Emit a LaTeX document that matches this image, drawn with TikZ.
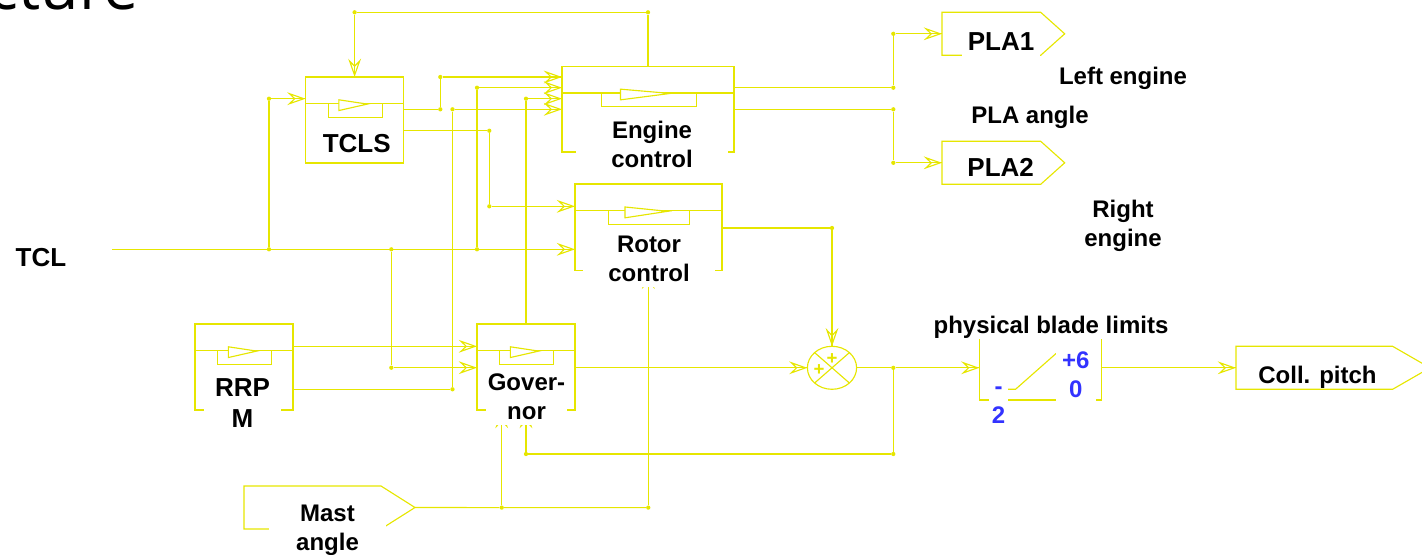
\documentclass[tikz,border=0pt]{standalone}
\usepackage{fontspec}
\setmainfont{Liberation Sans}
\newfontfamily\headfont{Open Sans}
\usepackage{tikz}
\usetikzlibrary{shapes.geometric, arrows.meta, fit}

\definecolor{wireyellow}{HTML}{E6E600}
\definecolor{limitblue}{HTML}{3333FF}

% control block: name, left, top, right, bottom
\newcommand{\ctrlblock}[5]{
    \node[ctrlbox, fit={(#2,#3) (#4,#5)}] (#1) {};
    \pgfmathsetmacro\bw{(#4-#2)*0.75}
    \pgfmathsetmacro\bh{(#5-#3)*0.75}
    \draw[wire, shift={(#2,#3)}, x=\bw pt, y=-\bh pt]
        (0,.31) -- (1,.31)
        (.23,.31) -- (.23,.47) -- (.78,.47) -- (.78,.31);
    \draw[wire, fill=white, shift={(#2,#3)}, x=\bw pt, y=-\bh pt]
        (.34,.265) -- (.63,.315) -- (.34,.39) -- cycle;
}
% pointed tag: name, left, top, shoulder, tip, bottom
\newcommand{\tagshape}[6]{
    \node[inner sep=0pt, outer sep=0pt, fit={(#2,#3) (#5,#6)}] (#1) {};
    \draw[wire] (#2,#3) -- (#4,#3) -- (#1.east) -- (#4,#6) -- (#2,#6) -- cycle;
}

\begin{document}
\begin{tikzpicture}[
        x=0.75pt, y=-0.75pt,
        wire/.style={draw=wireyellow, line width=0.85pt},
        feed/.style={wire, postaction={draw, -{Stealth[open, length=13.7pt, width=9.6pt, inset=5pt]}}},
        ctrlbox/.style={rectangle, wire, inner sep=0pt, outer sep=0pt},
        junction/.style={circle, fill=wireyellow, inner sep=0pt, minimum size=3.2pt},
        lab/.style={fill=white, inner sep=0pt, align=center, font=\bfseries\fontsize{18}{21.75}\selectfont},
        labbig/.style={lab, font=\bfseries\fontsize{19.5}{23}\selectfont},
        limit/.style={lab, text=limitblue}
    ]
    \useasboundingbox (0,0) rectangle (1422,554);

    \node[anchor=base east, inner sep=0pt, font=\headfont\fontsize{47}{47}\selectfont] (headtail) at (139,9) {ecture};

    % blocks
    \ctrlblock{tcls}{305.5}{77}{403.7}{163}
    \ctrlblock{engine}{562}{66.5}{734}{152}
    \ctrlblock{rotor}{575}{184}{722}{270.7}
    \ctrlblock{rrpm}{195}{324}{293}{410}
    \ctrlblock{governor}{477}{324}{575}{410}

    \tagshape{pla1}{942}{12.3}{1040.7}{1064.7}{55.3}
    \tagshape{pla2}{942}{141.3}{1040.7}{1064.7}{184.3}
    \tagshape{mast}{244}{486}{381}{415}{529}
    \tagshape{coll}{1236}{346.3}{1392.6}{1430}{389.3}

    \node[ellipse, wire, inner sep=0pt, outer sep=0pt, minimum width=36.9pt, minimum height=32.25pt] (sum) at (832,367.8) {};
    \draw[wire] (sum.north west) -- (sum.south east) (sum.north east) -- (sum.south west);
    \node[text=wireyellow, inner sep=0pt, font=\bfseries\fontsize{14}{14}\selectfont] (sumplusa) at (832,359) {+};
    \node[text=wireyellow, inner sep=0pt, font=\bfseries\fontsize{14}{14}\selectfont] (sumplusb) at (819,370) {+};

    \node[ctrlbox, fit={(979.4,335) (1101.5,400)}] (limiter) {};
    \draw[wire] (1000,389.3) -- (1015.5,389.3) -- (1060,350);

    % junctions
    \coordinate (tclin) at (112,249.3);
    \node[junction] (jtcla) at (269,249.3) {};
    \node[junction] (jtclb) at (391.3,249.3) {};
    \node[junction] (jtclc) at (477,249.3) {};
    \node[junction] (jtcls) at (269,98.7) {};
    \node[junction] (jgovin) at (391.3,367.7) {};
    \node[junction] (jengb) at (477,87.7) {};
    \node[junction] (jouta) at (440.3,109.3) {};
    \node[junction] (jenga) at (440.3,77) {};
    \node[junction] (jengd) at (452.5,109.3) {};
    \node[junction] (jrrpm) at (452.5,389.3) {};
    \node[junction] (joutb) at (489.3,130.7) {};
    \node[junction] (jrota) at (489.3,206.3) {};
    \node[junction] (jengc) at (526,98.7) {};
    \node[junction] (jfbr) at (648,12.3) {};
    \node[junction] (jfbl) at (354.6,12.3) {};
    \node[junction] (jrot) at (832,228) {};
    \node[junction] (jsum) at (893.3,367.8) {};
    \node[junction] (jback) at (893.3,454) {};
    \node[junction] (jgovb) at (526,454) {};
    \node[junction] (jmasta) at (501.7,507.6) {};
    \node[junction] (jmastb) at (648.3,507.6) {};
    \node[junction] (jplaa) at (893.3,87.7) {};
    \node[junction] (jplab) at (893.3,33.8) {};
    \node[junction] (jplac) at (893.3,109.3) {};
    \node[junction] (jplad) at (893.3,162.8) {};

    % connectors
    \draw[feed] (tclin) -- (tclin -| rotor.west);
    \draw[wire] (jtcla) -- (jtcls);
    \draw[feed] (jtcls) -- (jtcls -| tcls.west);
    \draw[wire] (jtclb) -- (jgovin);
    \draw[feed] (jgovin) -- (jgovin -| governor.west);
    \draw[wire] (jtclc) -- (jengb);
    \draw[feed] (jengb) -- (jengb -| engine.west);
    \draw[wire] (jouta -| tcls.east) -- (jouta) -- (jenga);
    \draw[feed] (jenga) -- (jenga -| engine.west);
    \draw[wire] (jrrpm -| rrpm.east) -- (jrrpm) -- (jengd);
    \draw[feed] (jengd) -- (jengd -| engine.west);
    \draw[wire] (joutb -| tcls.east) -- (joutb) -- (jrota);
    \draw[feed] (jrota) -- (jrota -| rotor.west);
    \draw[wire] (governor.north -| jengc) -- (jengc);
    \draw[feed] (jengc) -- (jengc -| engine.west);
    \draw[wire] (engine.north -| jfbr) -- (jfbr) -- (jfbl);
    \draw[feed] (jfbl) -- (jfbl |- tcls.north);
    \coordinate (rrpmout) at (293,346.3);
    \draw[feed] (rrpmout) -- (rrpmout -| governor.west);
    \draw[feed] (governor.east |- sum.west) -- (sum.west);
    \draw[wire] (rotor.east |- jrot) -- (jrot);
    \draw[feed] (jrot) -- (sum.north);
    \draw[wire] (sum.east) -- (jsum);
    \draw[feed] (jsum) -- (jsum -| limiter.west);
    \draw[wire] (jsum) -- (jback) -- (jgovb);
    \draw[feed] (jgovb) -- (jgovb |- governor.south);
    \draw[wire] (mast.east) -- (jmasta) -- (jmastb);
    \draw[feed] (jmasta) -- (jmasta |- governor.south);
    \draw[feed] (jmastb) -- (jmastb |- rotor.south);
    \draw[feed] (limiter.east |- coll.west) -- (coll.west);
    \draw[wire] (jplaa -| engine.east) -- (jplaa) -- (jplab);
    \draw[feed] (jplab) -- (jplab -| pla1.west);
    \draw[wire] (jplac -| engine.east) -- (jplac) -- (jplad);
    \draw[feed] (jplad) -- (jplad -| pla2.west);

    % labels
    \node[labbig] (tclslab) at (356.7,144) {TCLS};
    \node[lab, minimum width=114pt, minimum height=52.5pt] (enginelab) at (652,144.5) {Engine\\control};
    \node[lab, minimum width=99pt, minimum height=42.75pt] (rotorlab) at (649,258.5) {Rotor\\control};
    \node[labbig, minimum width=57.75pt, minimum height=45pt] (rrpmlab) at (242.5,403) {RRP\\M};
    \node[lab, minimum width=60.75pt, minimum height=42.75pt] (governorlab) at (526.5,396.7) {Gover-\\nor};
    \node[lab, minimum width=87.75pt, minimum height=43.5pt] (mastlab) at (327.5,530.5) {Mast\\angle};
    \node[labbig, minimum width=58.5pt, minimum height=22.5pt] (pla1lab) at (1001,41.7) {PLA1};
    \node[labbig] (pla2lab) at (1000.7,167.5) {PLA2};
    \node[lab] (leftlab) at (1123,78) {Left engine};
    \node[lab] (anglelab) at (1030,117) {PLA angle};
    \node[lab] (rightlab) at (1123,225.5) {Right\\engine};
    \node[labbig] (tcllab) at (41,258) {TCL};
    \node[lab, minimum width=175pt, minimum height=18pt] (bladelab) at (1051,327) {physical blade limits};
    \node[limit, minimum width=14.6pt, minimum height=43.5pt] (lowlab) at (998.5,405) {-\\2};
    \node[limit, minimum width=30.4pt, minimum height=43.5pt] (highlab) at (1075.8,375) {+6\\0};
    \node[lab] (colllab) at (1317.5,377) {Coll. pitch};
\end{tikzpicture}
\end{document}
